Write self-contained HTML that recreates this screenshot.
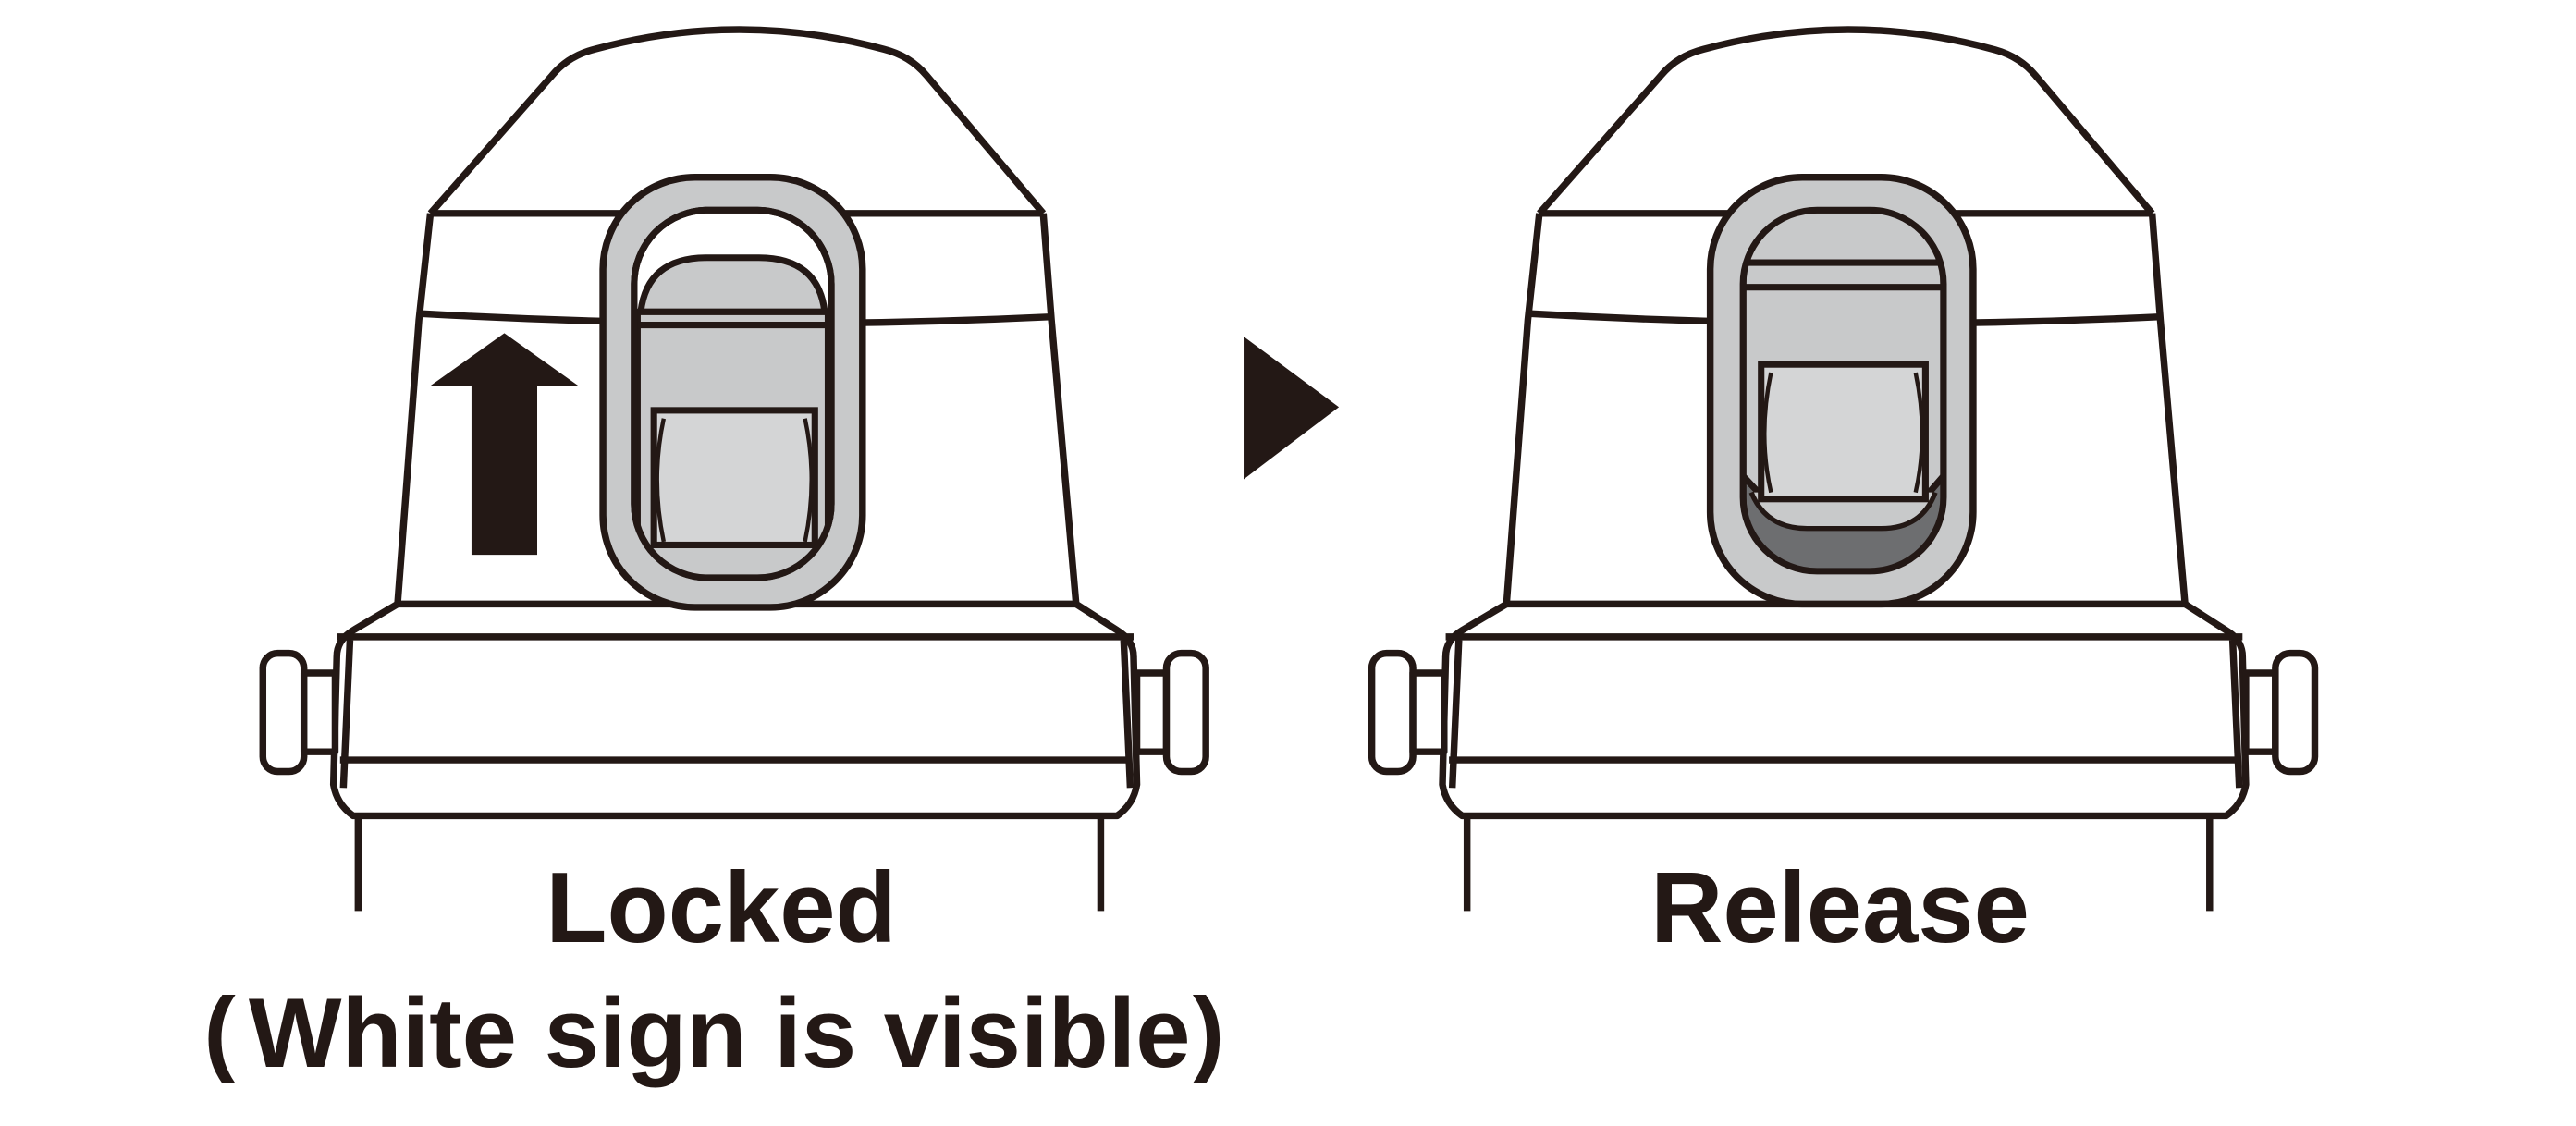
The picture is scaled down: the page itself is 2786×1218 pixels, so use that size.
<!DOCTYPE html>
<html><head><meta charset="utf-8"><style>
html,body{margin:0;padding:0;background:#fff;}
svg{display:block;}
text{font-family:"Liberation Sans",sans-serif;font-weight:bold;fill:#231815;}
</style></head><body>
<svg width="2786" height="1218" viewBox="0 0 1568 686" preserveAspectRatio="none" xmlns="http://www.w3.org/2000/svg">
<defs>
<g id="cap" fill="none" stroke="#231815" stroke-width="4.2" stroke-linejoin="round">
  <path d="M262,130 L336,46 Q346,34 362,30 Q450,6 538,30 Q554,34 564,46 L635,130" fill="#fff"/>
  <path d="M262,130 H635"/>
  <path d="M262,130 L255,195 L242,368"/>
  <path d="M635,130 L640,195 L655,368"/>
  <path d="M255,191 Q450,202 640,193"/>
  <path d="M242,368 H655"/>
  <path d="M242,368 L215,384 Q205,390 205,400 L203,478 Q205,490 215,497 H680 Q690,490 692,478 L690,400 Q690,390 680,384 L655,368"/>
  <path d="M205,388 H690"/>
  <path d="M213,390 L209,480 M684,390 L688,480"/>
  <path d="M207,463 H688"/>
  <rect x="160" y="398" width="25" height="72" rx="9" fill="#fff"/>
  <rect x="185" y="410" width="19" height="48" fill="#fff"/>
  <rect x="692" y="410" width="18" height="48" fill="#fff"/>
  <rect x="710" y="398" width="24" height="72" rx="9" fill="#fff"/>
  <path d="M218,499 V555 M670,499 V555"/>
</g>
<clipPath id="openL"><rect x="386" y="128" width="120" height="224" rx="45"/></clipPath>
<clipPath id="openR"><rect x="1061" y="128" width="122" height="220" rx="45"/></clipPath>
</defs>

<use href="#cap"/>
<rect x="367" y="108" width="158" height="262" rx="56" fill="#c8c9ca" stroke="#231815" stroke-width="4.2"/>
<rect x="386" y="128" width="120" height="224" rx="45" fill="#fff" stroke="#231815" stroke-width="4"/>
<g clip-path="url(#openL)" stroke="#231815" stroke-width="4">
  <path d="M390,190 Q394,157 430,157 H462 Q498,157 502,190 Z" fill="#c8c9ca"/>
  <rect x="388" y="190" width="116" height="170" fill="#c8c9ca"/>
  <path d="M388,198 H504" fill="none"/>
  <rect x="398" y="250" width="98" height="82" fill="#d4d5d6"/>
  <path d="M404,255 Q396,292 404,330 M490,255 Q498,292 490,330" fill="none" stroke-width="2.5"/>
</g>
<rect x="386" y="128" width="120" height="224" rx="45" fill="none" stroke="#231815" stroke-width="4"/>
<path d="M307,203 L352,235 H327 V338 H287 V235 H262 Z" fill="#231815"/>

<path d="M757,205 L815,248 L757,292 Z" fill="#231815"/>

<use href="#cap" transform="translate(675,0)"/>
<rect x="1041" y="108" width="160" height="260" rx="56" fill="#c8c9ca" stroke="#231815" stroke-width="4.2"/>
<g clip-path="url(#openR)" stroke="#231815" stroke-width="4">
  <rect x="1061" y="128" width="122" height="220" fill="#c8c9ca"/>
  <path d="M1061,160 H1183 M1061,175 H1183" fill="none"/>
  <path d="M1061,290 L1075,305 H1170 L1183,290 V350 H1061 Z" fill="#6d6e70"/>
  <path d="M1066,300 Q1075,322 1100,322 H1145 Q1170,322 1178,300" fill="#c8c9ca" stroke="none"/>
  <path d="M1066,300 Q1075,322 1100,322 H1145 Q1170,322 1178,300" fill="none" stroke-width="3"/>
  <rect x="1072" y="222" width="100" height="82" fill="#d4d5d6"/>
  <path d="M1078,227 Q1070,265 1078,300 M1166,227 Q1174,265 1166,300" fill="none" stroke-width="2.5"/>
</g>
<rect x="1061" y="128" width="122" height="220" rx="45" fill="none" stroke="#231815" stroke-width="4"/>

<text x="439" y="574" font-size="61" text-anchor="middle">Locked</text>
<text x="438" y="650" font-size="60" text-anchor="middle">White sign is visible</text>
<text x="124" y="648" font-size="58" font-weight="normal" transform="scale(1,1)">(</text>
<text x="726" y="648" font-size="58" font-weight="normal">)</text>
<text x="1120" y="574" font-size="61" text-anchor="middle">Release</text>
</svg>
</body></html>
